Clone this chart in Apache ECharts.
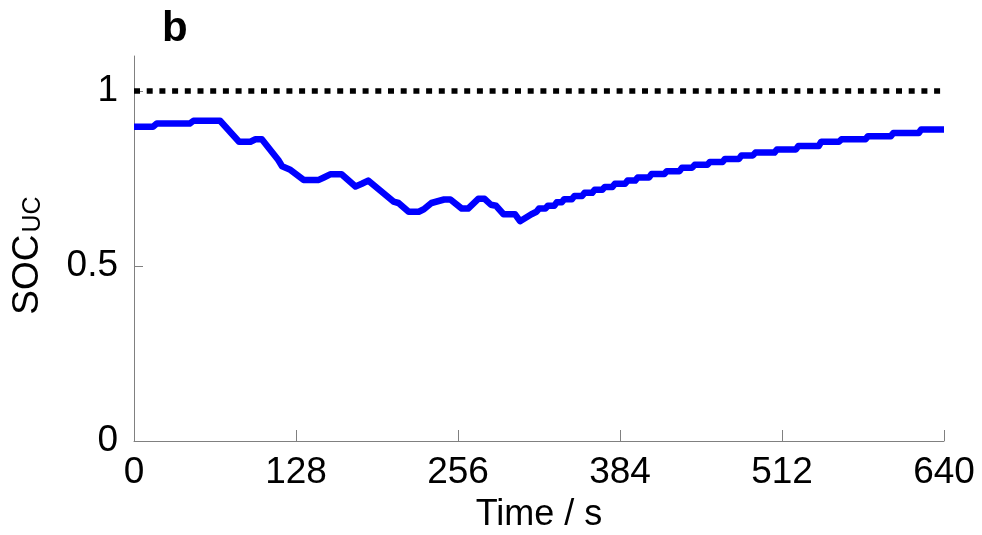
<!DOCTYPE html>
<html>
<head>
<meta charset="utf-8">
<script src="https://cdn.jsdelivr.net/npm/echarts@6/dist/echarts.min.js"></script>
<style>
  html, body { margin: 0; padding: 0; background: #fff; }
  #chart { width: 982px; height: 535px; }
</style>
</head>
<body>
<div id="chart"></div>
<script>
// Supercapacitor state of charge over the drive cycle
const timeS = [
  0, 15, 18, 44, 47, 68, 83, 92, 96, 101, 114, 117, 123, 134, 146, 150, 155, 164,
  175, 180, 185, 205, 209, 217, 225, 229, 235, 240, 245, 250, 259, 264, 272, 277,
  282, 286, 292, 301, 305, 314,
  318, 320, 325, 327, 332, 334, 338, 340, 346, 348, 354, 356, 362, 364, 370, 372,
  378, 380, 388, 390, 396, 398, 407, 409, 419, 421, 431, 433, 441, 443, 453, 455,
  465, 467, 478, 480, 489, 491, 506, 508, 523, 525, 541, 543, 557, 559, 578, 580,
  598, 600, 620, 622, 640
];
const socUC = [
  0.898, 0.898, 0.907, 0.907, 0.915, 0.915, 0.855, 0.855, 0.862, 0.862, 0.803, 0.785, 0.776, 0.746, 0.746, 0.753, 0.762, 0.762,
  0.727, 0.735, 0.744, 0.684, 0.680, 0.655, 0.655, 0.662, 0.680, 0.685, 0.690, 0.690, 0.664, 0.664, 0.692, 0.692,
  0.675, 0.672, 0.648, 0.648, 0.628, 0.648,
  0.655, 0.664, 0.664, 0.672, 0.672, 0.682, 0.682, 0.691, 0.691, 0.700, 0.700, 0.709, 0.709, 0.718, 0.718, 0.726,
  0.726, 0.735, 0.735, 0.744, 0.744, 0.753, 0.753, 0.763, 0.763, 0.771, 0.771, 0.781, 0.781, 0.789, 0.789, 0.797,
  0.797, 0.806, 0.806, 0.816, 0.816, 0.824, 0.824, 0.833, 0.833, 0.843, 0.843, 0.855, 0.855, 0.862, 0.862, 0.871,
  0.871, 0.880, 0.880, 0.890, 0.890, 0.899, 0.899
];
// Upper limit reference line
const limitTime = [0, 640];
const limitSoc = [1, 1];

const xTicks = [0, 128, 256, 384, 512, 640];
const yTicks = [0, 0.5, 1];

const pair = (xs, ys) => xs.map((x, i) => [x, ys[i]]);
const font = '"Liberation Sans", Arial, sans-serif';

const chart = echarts.init(document.getElementById('chart'), null, { renderer: 'canvas' });
chart.setOption({
  animation: false,
  backgroundColor: '#ffffff',
  title: {
    text: 'b',
    left: 157,
    top: 3,
    textStyle: { fontFamily: font, fontSize: 42, fontWeight: 'bold', color: '#000' }
  },
  grid: { left: 134, right: 38, top: 56, bottom: 94, outerBoundsMode: 'none', containLabel: false },
  xAxis: {
    type: 'value',
    min: 0,
    max: 640,
    interval: 128,
    name: 'Time / s',
    nameLocation: 'middle',
    nameGap: 56,
    nameTextStyle: { fontFamily: font, fontSize: 36, color: '#000' },
    axisLine: { show: true, lineStyle: { color: '#808080', width: 1 } },
    axisTick: { show: true, inside: true, length: 11, lineStyle: { color: '#808080' } },
    axisLabel: { fontFamily: font, fontSize: 37, color: '#000', margin: 13, customValues: xTicks },
    splitLine: { show: false }
  },
  yAxis: {
    type: 'value',
    min: 0,
    max: 1.1,
    interval: 0.5,
    name: '{a|SOC}{b|UC}',
    nameLocation: 'middle',
    nameRotate: 90,
    nameGap: 88,
    nameTextStyle: {
      rich: {
        a: { fontFamily: font, fontSize: 37, color: '#000' },
        b: { fontFamily: font, fontSize: 25, color: '#000', verticalAlign: 'bottom', padding: [10, 14, 0, 2] }
      }
    },
    axisLine: { show: true, lineStyle: { color: '#808080', width: 1 } },
    axisTick: { show: true, inside: true, length: 9, lineStyle: { color: '#808080' }, customValues: yTicks },
    axisLabel: { fontFamily: font, fontSize: 37, color: '#000', margin: 16, customValues: yTicks },
    splitLine: { show: false }
  },
  series: [
    {
      type: 'line',
      data: pair(limitTime, limitSoc),
      symbol: 'none',
      lineStyle: { color: '#000', width: 5.5, type: [6, 6.7], cap: 'butt' },
      z: 2
    },
    {
      type: 'line',
      data: pair(timeS, socUC),
      symbol: 'none',
      lineStyle: { color: '#0000ff', width: 6.5, join: 'round', cap: 'butt' },
      z: 3
    }
  ]
});
</script>
</body>
</html>
